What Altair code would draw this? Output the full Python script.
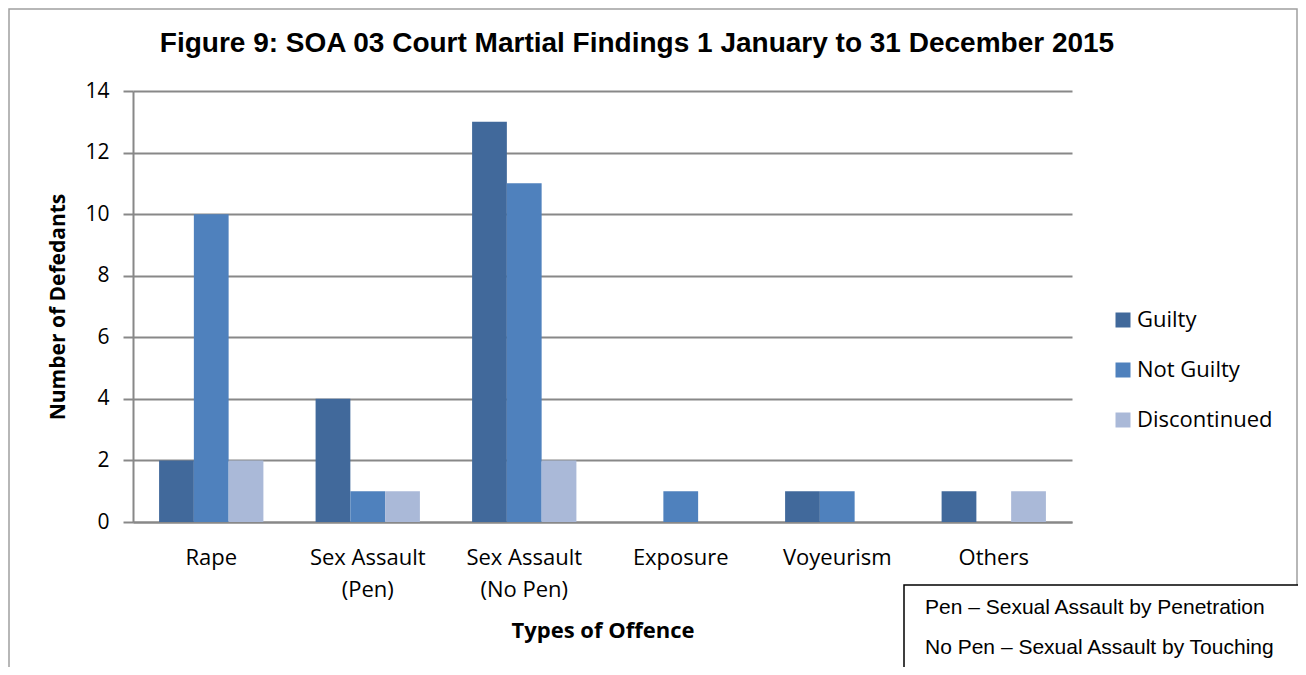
import altair as alt
import pandas as pd

categories = ["Rape", "Sex Assault (Pen)", "Sex Assault (No Pen)", "Exposure", "Voyeurism", "Others"]
findings = ["Guilty", "Not Guilty", "Discontinued"]
guilty = [2, 4, 13, 0, 1, 1]
not_guilty = [10, 1, 11, 1, 1, 0]
discontinued = [2, 1, 2, 0, 0, 1]
colors = ["#41699B", "#4F81BD", "#AAB9D8"]
y_ticks = [0, 2, 4, 6, 8, 10, 12, 14]
title_text = "Figure 9: SOA 03 Court Martial Findings 1 January to 31 December 2015"
notes = ["Pen \u2013 Sexual Assault by Penetration", "No Pen \u2013 Sexual Assault by Touching"]

rows = []
for i, c in enumerate(categories):
    for f, vals in zip(findings, [guilty, not_guilty, discontinued]):
        rows.append({"Offence": c, "Finding": f, "Count": vals[i]})
df = pd.DataFrame(rows)

W, H = 939, 431
PL, PT, PR, PB = 125, 83, 226, 145

label_expr = ("indexof(datum.label, ' (') > 0 ? [substring(datum.label, 0, indexof(datum.label, ' (')), "
              "substring(datum.label, indexof(datum.label, ' (') + 1)] : datum.label")

bars = alt.Chart(df).mark_bar().encode(
    x=alt.X("Offence:N", sort=categories,
            scale=alt.Scale(paddingInner=0.3335, paddingOuter=0.1667),
            axis=alt.Axis(title="Types of Offence", labelAngle=0, ticks=False,
                          labelExpr=label_expr, labelFont="Open Sans", labelFontSize=22,
                          labelLineHeight=32, labelPadding=25, labelColor="black",
                          titleFont="Open Sans", titleFontSize=22, titleFontWeight="bold",
                          titleColor="black", titlePadding=20,
                          domainColor="#888888", domainWidth=2, grid=False)),
    xOffset=alt.XOffset("Finding:N", sort=findings,
                        scale=alt.Scale(paddingInner=0, paddingOuter=0)),
    y=alt.Y("Count:Q", scale=alt.Scale(domain=[0, 14], nice=False),
            axis=alt.Axis(values=y_ticks, title="Number of Defedants",
                          titleFont="Open Sans", titleFontSize=21, titleFontWeight="bold",
                          titleColor="black", titlePadding=16,
                          labelFont="Open Sans", labelFontSize=21, labelColor="black",
                          labelPadding=14, tickSize=10, tickColor="#888888", tickWidth=2,
                          domainColor="#888888", domainWidth=2,
                          gridColor="#888888", gridWidth=2)),
    color=alt.Color("Finding:N", sort=findings,
                    scale=alt.Scale(domain=findings, range=colors),
                    legend=alt.Legend(title=None, orient="none", legendX=979, legendY=218,
                                      symbolType="square", symbolSize=225, symbolStrokeWidth=0,
                                      labelFont="Open Sans", labelFontSize=22, labelColor="black",
                                      labelOffset=3, rowPadding=28, padding=0)),
)

one = pd.DataFrame({"a": [0]})

outer = alt.Chart(one).mark_rect(fill=None, stroke="#A0A0A0", strokeWidth=1.5).encode(
    x=alt.value(-PL + 1), y=alt.value(-PT + 1),
    x2=alt.value(W + PR - 1), y2=alt.value(H + PB + 20))

title = alt.Chart(pd.DataFrame({"t": [title_text]})).mark_text(
    font="Liberation Sans", fontSize=28, fontWeight="bold", color="black",
    align="center", baseline="alphabetic").encode(
    text="t:N", x=alt.value(504), y=alt.value(-39))

box = alt.Chart(one).mark_rect(fill="white", stroke="black", strokeWidth=1.5).encode(
    x=alt.value(771), y=alt.value(494), x2=alt.value(W + PR + 20), y2=alt.value(H + PB + 20))

note_df = pd.DataFrame({"n": notes, "k": [0, 1]})
note_text = alt.Chart(note_df).mark_text(
    font="Liberation Sans", fontSize=21, color="black", align="left",
    baseline="middle").encode(
    text="n:N", x=alt.value(792),
    y=alt.Y("k:Q", scale=alt.Scale(domain=[0, 1], range=[517, 557]), axis=None))

chart = alt.layer(outer, bars, title, box, note_text).resolve_scale(y="independent").properties(
    width=W, height=H,
    autosize=alt.AutoSizeParams(type="none"),
    padding={"left": PL, "top": PT, "right": PR, "bottom": PB},
    background="white",
).configure_view(stroke=None)

chart.save("out.html", embed_options={"renderer": "svg", "actions": False})
